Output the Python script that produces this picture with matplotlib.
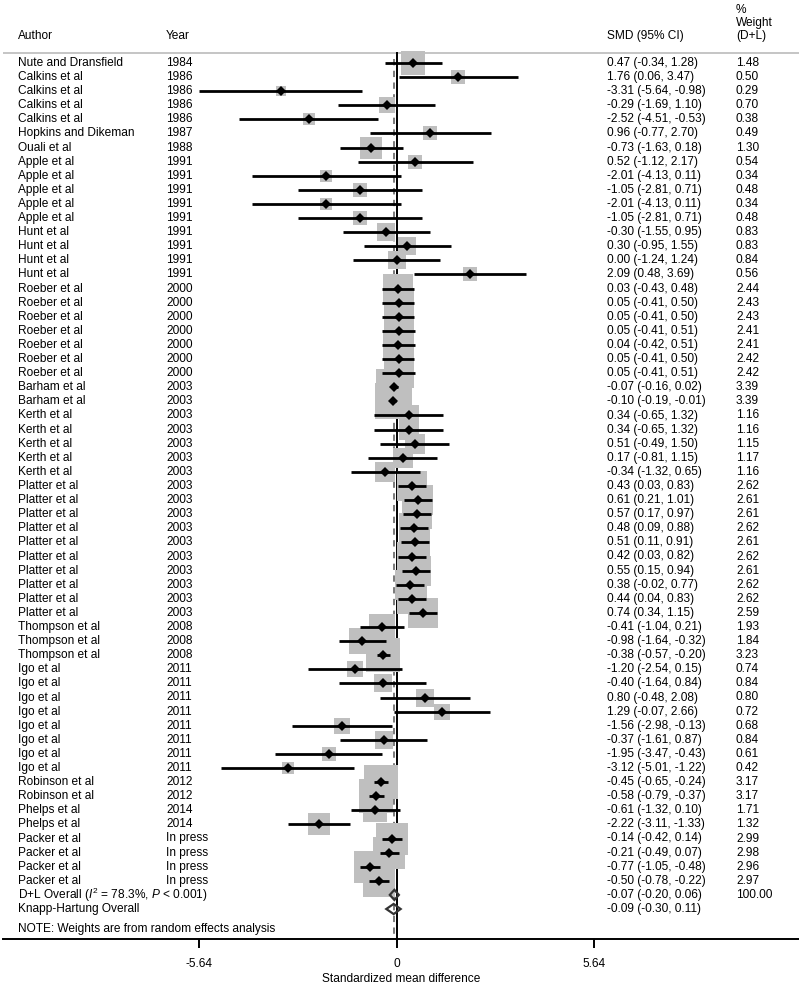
import matplotlib
matplotlib.use("Agg")
import matplotlib.pyplot as plt
import matplotlib.transforms as mtransforms
from matplotlib.patches import Polygon

plt.rcParams['font.family'] = ['Liberation Sans', 'DejaVu Sans']
plt.rcParams['mathtext.fontset'] = 'custom'
plt.rcParams['mathtext.rm'] = 'Liberation Sans'
plt.rcParams['mathtext.it'] = 'Liberation Sans:italic'
plt.rcParams['axes.unicode_minus'] = False

# ---------------- data ----------------
authors = (["Nute and Dransfield"] + ["Calkins et al"] * 4 + ["Hopkins and Dikeman", "Ouali et al"]
           + ["Apple et al"] * 5 + ["Hunt et al"] * 4 + ["Roeber et al"] * 7 + ["Barham et al"] * 2
           + ["Kerth et al"] * 5 + ["Platter et al"] * 10 + ["Thompson et al"] * 3 + ["Igo et al"] * 8
           + ["Robinson et al"] * 2 + ["Phelps et al"] * 2 + ["Packer et al"] * 4)
years = (["1984"] + ["1986"] * 4 + ["1987", "1988"] + ["1991"] * 5 + ["1991"] * 4 + ["2000"] * 7
         + ["2003"] * 2 + ["2003"] * 5 + ["2003"] * 10 + ["2008"] * 3 + ["2011"] * 8
         + ["2012"] * 2 + ["2014"] * 2 + ["In press"] * 4)
smd = [0.47, 1.76, -3.31, -0.29, -2.52, 0.96, -0.73, 0.52, -2.01, -1.05, -2.01, -1.05,
       -0.30, 0.30, 0.00, 2.09, 0.03, 0.05, 0.05, 0.05, 0.04, 0.05, 0.05, -0.07, -0.10,
       0.34, 0.34, 0.51, 0.17, -0.34, 0.43, 0.61, 0.57, 0.48, 0.51, 0.42, 0.55, 0.38, 0.44, 0.74,
       -0.41, -0.98, -0.38, -1.20, -0.40, 0.80, 1.29, -1.56, -0.37, -1.95, -3.12,
       -0.45, -0.58, -0.61, -2.22, -0.14, -0.21, -0.77, -0.50]
lower = [-0.34, 0.06, -5.64, -1.69, -4.51, -0.77, -1.63, -1.12, -4.13, -2.81, -4.13, -2.81,
         -1.55, -0.95, -1.24, 0.48, -0.43, -0.41, -0.41, -0.41, -0.42, -0.41, -0.41, -0.16, -0.19,
         -0.65, -0.65, -0.49, -0.81, -1.32, 0.03, 0.21, 0.17, 0.09, 0.11, 0.03, 0.15, -0.02, 0.04, 0.34,
         -1.04, -1.64, -0.57, -2.54, -1.64, -0.48, -0.07, -2.98, -1.61, -3.47, -5.01,
         -0.65, -0.79, -1.32, -3.11, -0.42, -0.49, -1.05, -0.78]
upper = [1.28, 3.47, -0.98, 1.10, -0.53, 2.70, 0.18, 2.17, 0.11, 0.71, 0.11, 0.71,
         0.95, 1.55, 1.24, 3.69, 0.48, 0.50, 0.50, 0.51, 0.51, 0.50, 0.51, 0.02, -0.01,
         1.32, 1.32, 1.50, 1.15, 0.65, 0.83, 1.01, 0.97, 0.88, 0.91, 0.82, 0.94, 0.77, 0.83, 1.15,
         0.21, -0.32, -0.20, 0.15, 0.84, 2.08, 2.66, -0.13, 0.87, -0.43, -1.22,
         -0.24, -0.37, 0.10, -1.33, 0.14, 0.07, -0.48, -0.22]
weights = [1.48, 0.50, 0.29, 0.70, 0.38, 0.49, 1.30, 0.54, 0.34, 0.48, 0.34, 0.48,
           0.83, 0.83, 0.84, 0.56, 2.44, 2.43, 2.43, 2.41, 2.41, 2.42, 2.42, 3.39, 3.39,
           1.16, 1.16, 1.15, 1.17, 1.16, 2.62, 2.61, 2.61, 2.62, 2.61, 2.62, 2.61, 2.62, 2.62, 2.59,
           1.93, 1.84, 3.23, 0.74, 0.84, 0.80, 0.72, 0.68, 0.84, 0.61, 0.42,
           3.17, 3.17, 1.71, 1.32, 2.99, 2.98, 2.96, 2.97]

overall_labels = [r"D+L Overall ($\mathit{I}^{2}$ = 78.3%, $\mathit{P}$ < 0.001)", "Knapp-Hartung Overall"]
overall_est = [-0.07, -0.09]
overall_lo = [-0.20, -0.30]
overall_hi = [0.06, 0.11]
overall_weight = ["100.00", ""]

xticks = [-5.64, 0, 5.64]
xtick_labels = ["-5.64", "0", "5.64"]

# ---------------- layout ----------------
W, H = 799, 986
fig = plt.figure(figsize=(W / 100, H / 100), dpi=100)
row0_px, row_step = 63.0, 14.1
axis_px = 939.0
ax = fig.add_axes([3 / W, (H - axis_px) / H, (W - 3) / W, axis_px / H])
x0_px, scale = 396.8, 35.02
ax.set_xlim((3 - x0_px) / scale, (W - x0_px) / scale)
ax.set_ylim((axis_px - row0_px) / row_step, (0 - row0_px) / row_step)

for s in ['top', 'left', 'right']:
    ax.spines[s].set_visible(False)
ax.spines['bottom'].set_linewidth(1.4)
ax.set_yticks([])
ax.set_xticks(xticks)
ax.set_xticklabels(xtick_labels, fontsize=8.6)
ax.tick_params(axis='x', direction='out', length=6.5, width=1.4, pad=7.5)
ax.set_xlabel("Standardized mean difference", fontsize=8.6, labelpad=2)

n = len(smd)
rows = list(range(n))
fs = 8.6
header_row = (53 - row0_px) / row_step
dl_row = n
kh_row = n + 1.0
note_row = (929 - row0_px) / row_step
ybot = (axis_px - row0_px) / row_step

# reference lines
ax.plot([0, 0], [header_row, ybot], color='black', lw=1.4, zorder=1, clip_on=False)
ax.plot([overall_est[0]] * 2, [header_row + 0.4, ybot], color='#707070', lw=1.3,
        linestyle=(0, (3.5, 3)), zorder=1, clip_on=False)

# weight boxes
for i in rows:
    ax.plot(smd[i], i, marker='s', ms=13.7 * weights[i] ** 0.5, color='#bfbfbf',
            markeredgewidth=0, zorder=2, linestyle='none')
# CIs
for i in rows:
    ax.plot([lower[i], upper[i]], [i, i], color='black', lw=2.0, zorder=3, solid_capstyle='butt')
ax.plot(smd, rows, marker='D', ms=5, color='black', linestyle='none', zorder=4, markeredgewidth=0)

# overall diamonds
for k, r in enumerate([dl_row, kh_row]):
    h = 0.36
    poly = Polygon([(overall_lo[k], r), (overall_est[k], r - h), (overall_hi[k], r), (overall_est[k], r + h)],
                   closed=True, fill=False, edgecolor='#333333', lw=1.6, zorder=5)
    ax.add_patch(poly)

# text columns
tr = mtransforms.blended_transform_factory(fig.transFigure, ax.transData)
col_author, col_year, col_smd, col_w = 18 / W, 166 / W, 607 / W, 736 / W
for i in rows:
    ax.text(col_author, i, authors[i], transform=tr, fontsize=fs, va='center', ha='left')
    ax.text(col_year, i, years[i], transform=tr, fontsize=fs, va='center', ha='left')
    ax.text(col_smd, i, "%.2f (%.2f, %.2f)" % (smd[i], lower[i], upper[i]), transform=tr,
            fontsize=fs, va='center', ha='left')
    ax.text(col_w, i, "%.2f" % weights[i], transform=tr, fontsize=fs, va='center', ha='left')
for k, r in enumerate([dl_row, kh_row]):
    ax.text(col_author, r, overall_labels[k], transform=tr, fontsize=fs, va='center', ha='left')
    ax.text(col_smd, r, "%.2f (%.2f, %.2f)" % (overall_est[k], overall_lo[k], overall_hi[k]),
            transform=tr, fontsize=fs, va='center', ha='left')
    if overall_weight[k]:
        ax.text(col_w, r, overall_weight[k], transform=tr, fontsize=fs, va='center', ha='left')
ax.text(col_author, note_row, "NOTE: Weights are from random effects analysis", transform=tr,
        fontsize=fs, va='center', ha='left')

# headers
def fy(px):
    return 1 - px / H
fig.text(col_author, fy(36), "Author", fontsize=fs, va='center', ha='left')
fig.text(col_year, fy(36), "Year", fontsize=fs, va='center', ha='left')
fig.text(col_smd, fy(36), "SMD (95% CI)", fontsize=fs, va='center', ha='left')
fig.text(col_w, fy(10), "%", fontsize=fs, va='center', ha='left')
fig.text(col_w, fy(23), "Weight", fontsize=fs, va='center', ha='left')
fig.text(col_w, fy(36), "(D+L)", fontsize=fs, va='center', ha='left')
ax.plot([-100, 100], [header_row, header_row], color='#c0c0c0', lw=1.3, zorder=0)

fig.savefig("out.png", dpi=100)
